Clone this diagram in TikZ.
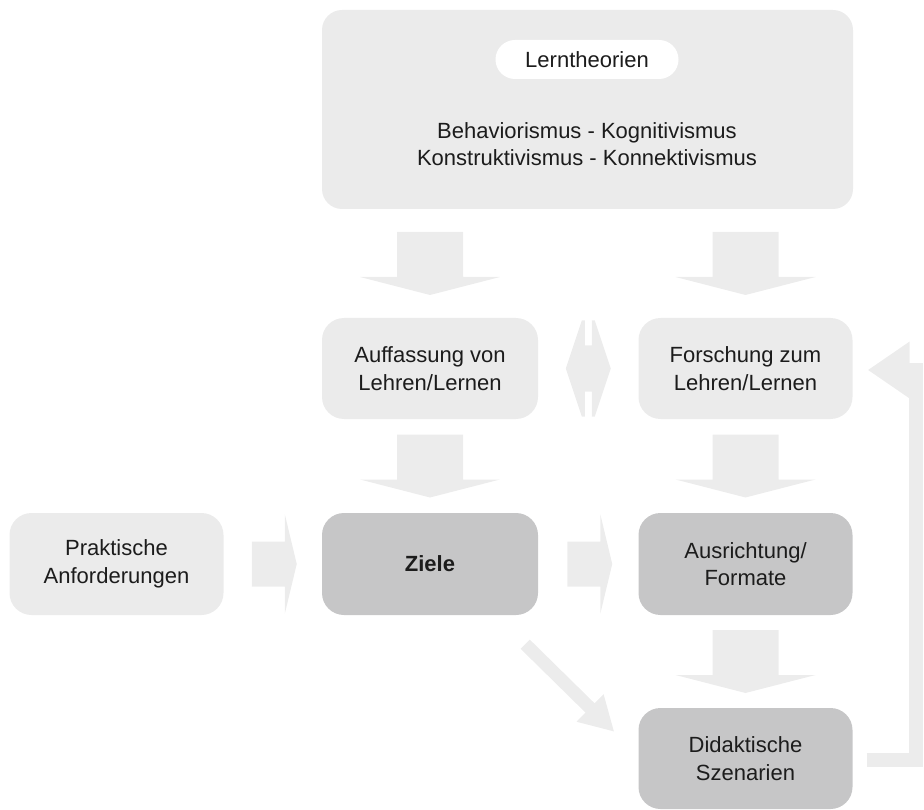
\documentclass[tikz,border=0pt]{standalone}
\usepackage{fontspec}
\setmainfont{Liberation Sans}
\usetikzlibrary{calc,arrows.meta}

\definecolor{boxlight}{HTML}{EBEBEB}
\definecolor{boxdark}{HTML}{C6C6C7}
\definecolor{flowgray}{HTML}{ECECEC}
\definecolor{ink}{HTML}{1C1C1C}

\tikzset{
  label font/.style={font=\fontsize{22}{27.5}\selectfont},
  card/.style={label font, rounded corners=22pt, fill=boxlight, text=ink,
    align=center, inner sep=0pt, minimum width=214pt, minimum height=101pt},
  darkcard/.style={card, fill=boxdark},
  pill/.style={label font, fill=white, text=ink, rounded corners=19.5pt,
    inner sep=0pt, minimum width=183pt, minimum height=39pt},
  flow/.style={fill=flowgray, draw=none},
  flowline/.style={draw=flowgray},
}

% broad downward arrow centred in the gap between two stacked nodes
\newcommand\fatdown[2]{%
  \fill[flow] let \p1=($(#1.south)!.5!(#2.north)$), \p2=(#2.north) in
    (\x2-33pt,\y1+31.5pt) -- (\x2+33pt,\y1+31.5pt) -- (\x2+33pt,\y1-13.5pt)
    -- (\x2+70pt,\y1-13.5pt) -- (\x2,\y1-31.5pt) -- (\x2-70pt,\y1-13.5pt)
    -- (\x2-33pt,\y1-13.5pt) -- cycle;}

% broad rightward arrow centred in the gap between two nodes in a row
\newcommand\fatright[2]{%
  \fill[flow] let \p1=($(#1.east)!.5!(#2.west)$), \p2=(#2.west) in
    (\x1-21pt,\y2+22.5pt) -- (\x1+12pt,\y2+22.5pt) -- (\x1+12pt,\y2+50pt)
    -- (\x1+24pt,\y2) -- (\x1+12pt,\y2-50pt) -- (\x1+12pt,\y2-22.5pt)
    -- (\x1-21pt,\y2-22.5pt) -- cycle;}

\begin{document}
\begin{tikzpicture}[x=1pt,y=-1pt]
\useasboundingbox (0,0) rectangle (924,810);

% learning theories panel
\node[card, rounded corners=20pt, minimum width=531pt, minimum height=199pt]
  (theo) at (587.5,109.5) {};
\node[pill] (lt) at (587,59.5) {Lerntheorien};
\node[label font, text=ink, align=center] (schools) at (587,144)
  {Behaviorismus - Kognitivismus\\Konstruktivismus - Konnektivismus};

% second row
\node[card, minimum width=216pt] (auf) at (430,368.5) {Auffassung von\\Lehren/Lernen};
\node[card] (for) at (745.5,368.5) {Forschung zum\\Lehren/Lernen};

% third row
\node[card, minimum height=102pt] (prak) at (116.5,564) {Praktische\\Anforderungen};
\node[darkcard, minimum width=216pt, minimum height=102pt] (ziele) at (430,564)
  {\bfseries Ziele};
\node[darkcard, minimum height=102pt] (ausr) at (745.5,564) {Ausrichtung/\\Formate};

% bottom row
\node[darkcard] (did) at (745.5,758.5) {Didaktische\\Szenarien};

% vertical flow
\fatdown{theo}{auf}
\fatdown{theo}{for}
\fatdown{auf}{ziele}
\fatdown{for}{ausr}
\fatdown{ausr}{did}

% horizontal flow
\fatright{prak}{ziele}
\fatright{ziele}{ausr}

% two-way link between the second-row nodes
\fill[flow] let \p1=($(auf.east)!.5!(for.west)$) in
  (\x1-6.5pt,\y1+48pt) -- (\x1-3.5pt,\y1+48pt) -- (\x1-3.5pt,\y1+23pt)
  -- (\x1+3.5pt,\y1+23pt) -- (\x1+3.5pt,\y1+48pt) -- (\x1+6.5pt,\y1+48pt)
  -- (\x1+22.5pt,\y1) -- (\x1+6.5pt,\y1-48pt) -- (\x1+3.5pt,\y1-48pt)
  -- (\x1+3.5pt,\y1-23pt) -- (\x1-3.5pt,\y1-23pt) -- (\x1-3.5pt,\y1-48pt)
  -- (\x1-6.5pt,\y1-48pt) -- (\x1-22.5pt,\y1) -- cycle;

% diagonal from goals to scenarios
\draw[flowline, line width=13pt, -{Triangle[length=34pt,width=36pt]}]
  ($(ziele.south east)+(-13,29)$) -- ($(did.north west)+(-24,24)$);

% feedback loop back to research
\draw[flowline, line width=14pt, -{Triangle[length=42pt,width=54pt]}]
  ($(did.east)+(14,1.5)$) -| ($(for.east)+(63,1.5)$) -- ($(for.east)+(15,1.5)$);
\end{tikzpicture}
\end{document}
